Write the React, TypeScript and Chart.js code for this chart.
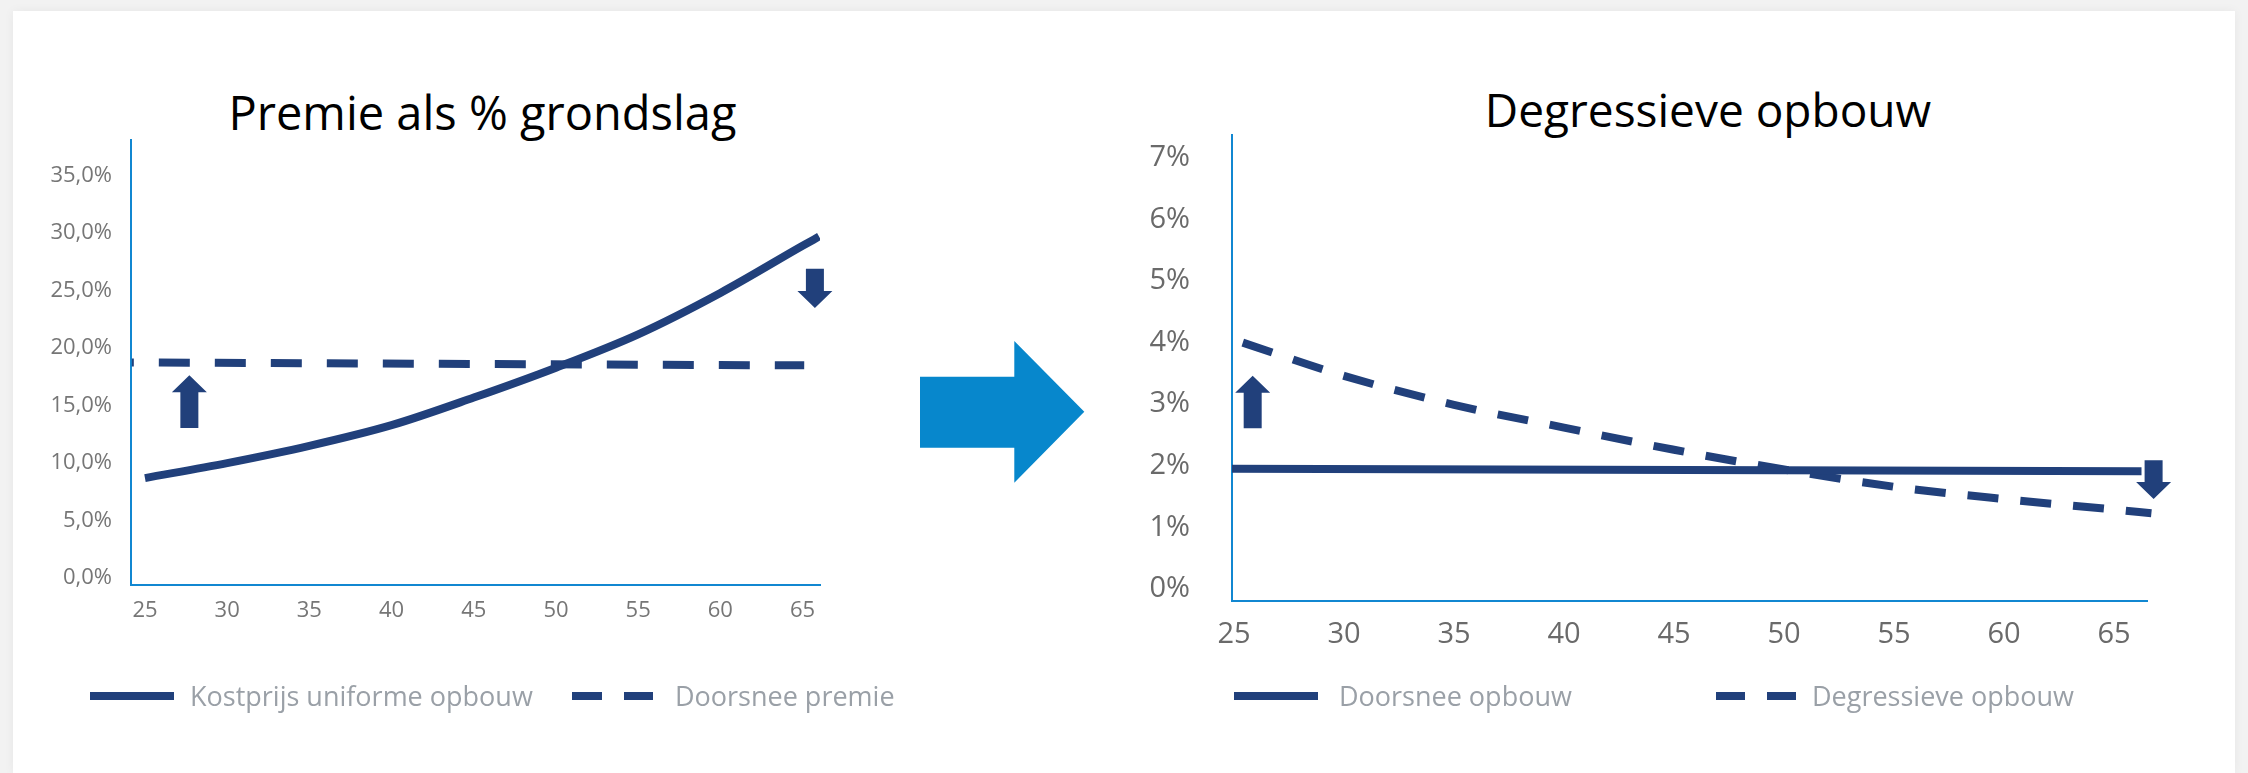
import React, { useEffect, useRef } from 'react';
import { Chart, registerables } from 'chart.js';

Chart.register(...registerables);

// Links: premie als % grondslag
const kostprijsAges = [25, 30, 35, 40, 45, 50, 55, 60, 65, 66];
const kostprijsValues = [8.7, 10.0, 11.5, 13.3, 15.7, 18.3, 21.2, 24.8, 28.9, 29.7];
const doorsneePremieAges = [24.2, 65.1];
const doorsneePremieValues = [18.75, 18.5];
const leftXTicks = [25, 30, 35, 40, 45, 50, 55, 60, 65];
const leftYTicks = [0, 5, 10, 15, 20, 25, 30, 35];
const leftArrowAges = [27.7, 65.75];
const leftArrowFrom = [13.05, 26.9];
const leftArrowTo = [17.65, 23.5];

// Rechts: degressieve opbouw
const doorsneeOpbouwAges = [24.9, 66.25];
const doorsneeOpbouwValues = [1.95, 1.91];
const degressiefAges = [25.4, 30, 35, 40, 45, 50, 55, 60, 65, 66.7];
const degressiefValues = [4.0, 3.46, 2.99, 2.62, 2.26, 1.94, 1.66, 1.46, 1.29, 1.23];
const rightXTicks = [25, 30, 35, 40, 45, 50, 55, 60, 65];
const rightYTicks = [0, 1, 2, 3, 4, 5, 6, 7];
const rightArrowAges = [25.85, 66.8];
const rightArrowFrom = [2.61, 2.09];
const rightArrowTo = [3.46, 1.46];

const NAVY = '#21407b';
const AXIS_BLUE = '#1187d1';
const FONT = "'Open Sans', sans-serif";

const toPoints = (xs: number[], ys: number[]) => xs.map((x, i) => ({ x, y: ys[i] }));

// draws the small up/down arrows from data values
const arrowPlugin = {
  id: 'updownArrows',
  afterDatasetsDraw(chart: any, _args: any, opts: any) {
    const { ctx, scales } = chart;
    if (!opts || !opts.ages) return;
    ctx.save();
    ctx.fillStyle = opts.color;
    opts.ages.forEach((age: number, i: number) => {
      const x = scales.x.getPixelForValue(age);
      const y0 = scales.y.getPixelForValue(opts.from[i]);
      const y1 = scales.y.getPixelForValue(opts.to[i]);
      const dir = y1 < y0 ? -1 : 1;
      const head = 17;
      const shaft = 9;
      const half = 17.5;
      const yb = y1 - dir * head;
      ctx.beginPath();
      ctx.moveTo(x - shaft, y0);
      ctx.lineTo(x - shaft, yb);
      ctx.lineTo(x - half, yb);
      ctx.lineTo(x, y1);
      ctx.lineTo(x + half, yb);
      ctx.lineTo(x + shaft, yb);
      ctx.lineTo(x + shaft, y0);
      ctx.closePath();
      ctx.fill();
    });
    ctx.restore();
  },
};

function ChartCanvas({ left, width, height, makeConfig }: { left: number; width: number; height: number; makeConfig: () => any }) {
  const canvasRef = useRef<HTMLCanvasElement>(null);

  useEffect(() => {
    if (!canvasRef.current) return;
    const chart = new Chart(canvasRef.current, makeConfig());
    return () => chart.destroy();
  }, [makeConfig]);

  return (
    <canvas
      ref={canvasRef}
      width={width}
      height={height}
      style={{ position: 'absolute', left, top: 0, width, height }}
    />
  );
}

const leftConfig = () => ({
  type: 'line',
  data: {
    datasets: [
      {
        data: toPoints(kostprijsAges, kostprijsValues),
        borderColor: NAVY,
        borderWidth: 8,
        pointRadius: 0,
        cubicInterpolationMode: 'monotone',
      },
      {
        data: toPoints(doorsneePremieAges, doorsneePremieValues),
        borderColor: NAVY,
        borderWidth: 8,
        pointRadius: 0,
        borderDash: [31, 25],
        borderDashOffset: 29,
      },
    ],
  },
  options: {
    responsive: false,
    animation: false,
    layout: { padding: { left: 0, top: 140, right: 180, bottom: 128 } },
    plugins: {
      legend: { display: false },
      tooltip: { enabled: false },
      updownArrows: { ages: leftArrowAges, from: leftArrowFrom, to: leftArrowTo, color: NAVY },
    },
    scales: {
      x: {
        type: 'linear',
        min: 24.15,
        max: 66.06,
        afterFit: (s: any) => { s.height = 60; },
        afterBuildTicks: (s: any) => { s.ticks = leftXTicks.map((value) => ({ value })); },
        grid: { display: false, drawTicks: false },
        border: { display: true, color: AXIS_BLUE, width: 2 },
        ticks: { color: '#767676', font: { family: FONT, size: 22 }, padding: 13, maxRotation: 0, autoSkip: false },
      },
      y: {
        type: 'linear',
        min: -0.6,
        max: 38.1,
        afterFit: (s: any) => { s.width = 131; },
        afterBuildTicks: (s: any) => { s.ticks = leftYTicks.map((value) => ({ value })); },
        grid: { display: false, drawTicks: false },
        border: { display: true, color: AXIS_BLUE, width: 2 },
        ticks: {
          color: '#767676',
          font: { family: FONT, size: 22 },
          padding: 19,
          callback: (v: number) => v.toFixed(1).replace('.', ',') + '%',
        },
      },
    },
  },
  plugins: [arrowPlugin],
});

const rightConfig = () => ({
  type: 'line',
  data: {
    datasets: [
      {
        data: toPoints(doorsneeOpbouwAges, doorsneeOpbouwValues),
        borderColor: NAVY,
        borderWidth: 8,
        pointRadius: 0,
      },
      {
        data: toPoints(degressiefAges, degressiefValues),
        borderColor: NAVY,
        borderWidth: 8,
        pointRadius: 0,
        borderDash: [31, 22],
        cubicInterpolationMode: 'monotone',
        clip: false,
      },
    ],
  },
  options: {
    responsive: false,
    animation: false,
    layout: { padding: { left: 0, top: 135, right: 101, bottom: 112 } },
    plugins: {
      legend: { display: false },
      tooltip: { enabled: false },
      updownArrows: { ages: rightArrowAges, from: rightArrowFrom, to: rightArrowTo, color: NAVY },
    },
    scales: {
      x: {
        type: 'linear',
        min: 24.91,
        max: 66.5,
        afterFit: (s: any) => { s.height = 60; },
        afterBuildTicks: (s: any) => { s.ticks = rightXTicks.map((value) => ({ value })); },
        grid: { display: false, drawTicks: false },
        border: { display: true, color: AXIS_BLUE, width: 2 },
        ticks: { color: '#6a6a6a', font: { family: FONT, size: 29 }, padding: 16, maxRotation: 0, autoSkip: false },
      },
      y: {
        type: 'linear',
        min: -0.195,
        max: 7.37,
        afterFit: (s: any) => { s.width = 132; },
        afterBuildTicks: (s: any) => { s.ticks = rightYTicks.map((value) => ({ value })); },
        grid: { display: false, drawTicks: false },
        border: { display: true, color: AXIS_BLUE, width: 2 },
        ticks: {
          color: '#6a6a6a',
          font: { family: FONT, size: 29 },
          padding: 42,
          callback: (v: number) => v + '%',
        },
      },
    },
  },
  plugins: [arrowPlugin],
});

function LegendItem({ x, y, sample, dashed, textX, label }: { x: number; y: number; sample: number; dashed?: number[]; textX: number; label: string }) {
  return (
    <>
      <svg style={{ position: 'absolute', left: x, top: y - 6 }} width={sample} height={12}>
        <line x1={0} y1={6} x2={sample} y2={6} stroke={NAVY} strokeWidth={8} strokeDasharray={dashed ? dashed.join(' ') : undefined} />
      </svg>
      <div
        style={{
          position: 'absolute',
          left: textX - 2,
          top: y - 14.5,
          fontFamily: FONT,
          fontSize: 27,
          lineHeight: 1,
          color: '#9aa0a7',
          whiteSpace: 'nowrap',
        }}
      >
        {label}
      </div>
    </>
  );
}

function Title({ cx, top, size, text }: { cx: number; top: number; size: number; text: string }) {
  return (
    <div
      style={{
        position: 'absolute',
        left: cx - 500,
        width: 1000,
        top,
        textAlign: 'center',
        fontFamily: FONT,
        fontSize: size,
        lineHeight: 1,
        color: '#000',
        whiteSpace: 'nowrap',
      }}
    >
      {text}
    </div>
  );
}

export default function App() {
  return (
    <div style={{ position: 'absolute', left: 0, top: 0, width: 2248, height: 773, background: '#f2f2f2', overflow: 'hidden' }}>
      <div
        style={{
          position: 'absolute',
          left: 13,
          top: 11,
          width: 2222,
          height: 762,
          background: '#fff',
          boxShadow: '0 0 10px rgba(0,0,0,0.05)',
        }}
      />
      <Title cx={482.5} top={89} size={47} text="Premie als % grondslag" />
      <Title cx={1708} top={86} size={46} text="Degressieve opbouw" />
      <ChartCanvas left={0} width={1000} height={773} makeConfig={leftConfig} />
      <ChartCanvas left={1100} width={1148} height={773} makeConfig={rightConfig} />
      <svg style={{ position: 'absolute', left: 920, top: 341 }} width={165} height={142}>
        <polygon points="0,35.7 94.3,35.7 94.3,0 164.3,70.7 94.3,141.7 94.3,106.7 0,106.7" fill="#0787cc" />
      </svg>
      <LegendItem x={90} y={696} sample={84} textX={192} label="Kostprijs uniforme opbouw" />
      <LegendItem x={572} y={696} sample={81} dashed={[30, 22]} textX={677} label="Doorsnee premie" />
      <LegendItem x={1234} y={696} sample={84} textX={1341} label="Doorsnee opbouw" />
      <LegendItem x={1716} y={696} sample={80} dashed={[29, 22]} textX={1814} label="Degressieve opbouw" />
    </div>
  );
}
